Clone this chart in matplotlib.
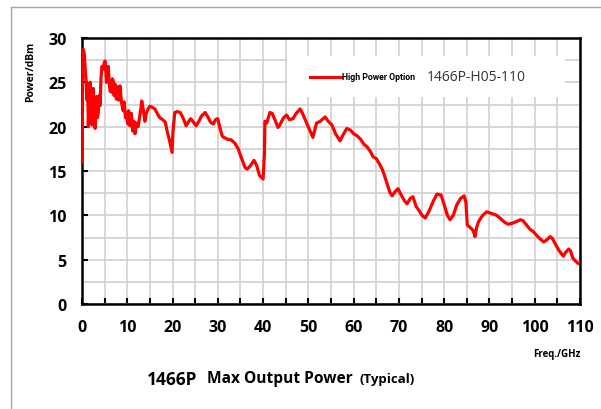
import matplotlib
matplotlib.use('Agg')
import matplotlib.pyplot as plt
from matplotlib.patches import Rectangle
from matplotlib.lines import Line2D

plt.rcParams['font.family'] = ['Open Sans', 'DejaVu Sans']

# frequency (GHz) / output power (dBm)
freq = [0, 0.15, 0.3, 0.5, 0.7, 0.9, 1.1, 1.25, 1.4, 1.6, 1.8, 2.0, 2.2, 2.35, 2.5, 2.7, 2.9,
        3.05, 3.2, 3.4, 3.6, 3.8, 4.0, 4.2, 4.4, 4.7, 4.9, 5.1, 5.3, 5.4, 5.6, 5.8, 6.0, 6.2,
        6.5, 6.7, 6.9, 7.1, 7.3, 7.6, 7.9, 8.1, 8.4, 8.7, 9.1, 9.3, 9.6, 9.8, 10.1, 10.3, 10.6,
        10.9, 11.2, 11.5, 11.7, 12.0, 12.4, 12.7, 13.0, 13.2, 13.5, 13.9, 14.2, 14.6, 15.0,
        15.5, 16.1, 16.6, 17.2, 17.8, 18.4, 18.8, 19.3, 19.6, 19.9, 20.1, 20.5, 21.0, 21.7,
        22.3, 23.0, 23.6, 24.0, 24.5, 25.2, 25.8, 26.4, 27.2, 27.8, 28.4, 29.0, 29.5, 30.0,
        30.5, 31.0, 32.0, 33.0, 33.8, 34.5, 35.2, 36.0, 36.5, 37.2, 38.0, 38.6, 39.2, 40.0,
        40.3, 40.4, 40.8, 41.5, 42.0, 42.6, 43.3, 43.8, 44.5, 45.2, 45.8, 46.6, 47.3, 48.2,
        48.8, 49.7, 50.4, 51.0, 51.8, 52.6, 53.7, 54.4, 55.2, 56.0, 57.0, 57.8, 58.5, 59.3,
        60.0, 60.7, 61.5, 62.3, 63.0, 63.7, 64.3, 65.0, 65.7, 66.3, 66.8, 67.3, 68.0, 68.5,
        69.2, 69.8, 70.6, 71.3, 71.8, 72.5, 73.1, 73.8, 74.5, 75.1, 75.8, 76.6, 77.5, 78.4,
        79.3, 80.0, 80.7, 81.3, 82.0, 82.8, 83.6, 84.4, 84.8, 85.1, 85.8, 86.4, 86.8, 87.2,
        87.6, 88.5, 89.4, 90.5, 91.6, 92.5, 93.4, 94.1, 95.0, 96.0, 96.8, 97.4, 98.2, 99.0,
        99.6, 100.5, 101.3, 102.0, 102.6, 103.4, 103.9, 104.6, 105.4, 106.0, 106.3, 106.8,
        107.5, 107.9, 108.4, 108.9, 109.5, 110.0]
power = [16.0, 27.5, 28.7, 28.2, 26.5, 25.2, 23.0, 24.8, 20.0, 24.0, 25.0, 21.5, 20.2, 24.2,
         24.3, 21.0, 19.8, 23.0, 23.4, 21.0, 21.6, 23.5, 22.4, 25.5, 26.8, 26.5, 27.2, 27.4,
         26.0, 25.0, 26.5, 26.8, 25.0, 24.0, 23.9, 25.4, 25.2, 23.5, 24.8, 23.1, 24.5, 23.0,
         24.6, 22.8, 21.8, 22.8, 21.0, 21.6, 20.3, 21.8, 20.1, 21.5, 19.5, 20.6, 19.2, 20.4,
         20.0, 21.0, 22.0, 22.9, 22.0, 20.6, 21.5, 22.0, 22.3, 22.2, 22.0, 21.5, 21.0, 20.8,
         20.5, 19.5, 18.5, 17.8, 17.1, 19.5, 21.6, 21.7, 21.6, 21.0, 20.1, 20.6, 20.9, 20.6,
         20.1, 20.6, 21.2, 21.6, 21.1, 20.5, 20.3, 20.8, 20.9, 19.8, 18.9, 18.6, 18.5, 18.1,
         17.5, 16.5, 15.4, 15.2, 15.6, 16.2, 15.6, 14.5, 14.1, 17.0, 20.6, 20.4, 21.6, 21.5,
         20.8, 19.9, 20.3, 21.0, 21.3, 20.8, 20.9, 21.5, 22.0, 21.4, 20.3, 19.5, 18.8, 20.4,
         20.6, 21.1, 20.6, 20.2, 19.2, 18.4, 19.2, 19.8, 19.6, 19.2, 19.0, 18.6, 18.0, 17.7,
         17.2, 16.6, 16.4, 15.8, 15.2, 14.5, 13.7, 12.6, 12.2, 12.7, 13.0, 12.2, 11.6, 11.3,
         11.9, 12.1, 11.0, 10.5, 10.0, 9.7, 10.4, 11.5, 12.4, 12.3, 11.2, 10.0, 9.5, 10.0,
         11.2, 11.9, 12.2, 11.5, 8.9, 8.6, 8.3, 7.6, 8.7, 9.3, 10.0, 10.4, 10.2, 10.0, 9.6,
         9.2, 9.0, 9.1, 9.3, 9.5, 9.4, 8.9, 8.4, 8.2, 7.7, 7.3, 7.0, 7.2, 7.6, 7.4, 6.7, 6.0,
         5.6, 5.4, 5.8, 6.2, 6.0, 5.2, 4.9, 4.6, 4.5]

x_ticks = [0, 10, 20, 30, 40, 50, 60, 70, 80, 90, 100, 110]
y_ticks = [0, 5, 10, 15, 20, 25, 30]

W, H = 601, 410
fig = plt.figure(figsize=(W / 100, H / 100), dpi=100)
ax = fig.add_axes([82 / W, 1 - 305 / H, (580 - 82) / W, (305 - 39) / H])

ax.plot(freq, power, color='#ff0000', linewidth=2.3, solid_joinstyle='round', zorder=3)

ax.set_xlim(0, 110)
ax.set_ylim(0, 30)
ax.set_xticks(x_ticks)
ax.set_xticks(range(5, 110, 10), minor=True)
ax.set_yticks(y_ticks)
ax.set_yticks([2.5 + 5 * i for i in range(6)], minor=True)

# light grid every 5 GHz and 2.5 dBm
ax.set_axisbelow(True)
ax.grid(True, which='both', color='#cfcfcf', linewidth=1.2)

ax.tick_params(axis='both', which='major', direction='in', length=4.5, width=1.5,
               labelsize=11.5, pad=11, colors='black')
ax.tick_params(axis='x', which='minor', direction='in', length=4.5, width=1.5)
ax.tick_params(axis='y', which='minor', length=0)
for lab in ax.get_xticklabels() + ax.get_yticklabels():
    lab.set_fontweight('bold')
for sp in ax.spines.values():
    sp.set_linewidth(1.8)
    sp.set_color('black')


def fx(px):
    return px / W


def fy(py):
    return 1 - py / H


# legend box
fig.patches.append(Rectangle((fx(287), fy(98)), (565 - 287) / W, (98 - 57) / H,
                             transform=fig.transFigure, facecolor='white', edgecolor='none',
                             zorder=5))
fig.lines.append(Line2D([fx(310), fx(341)], [fy(78), fy(78)], transform=fig.transFigure,
                        color='#ff0000', linewidth=2.2, zorder=6))
fig.text(fx(342), fy(78), 'High Power Option', fontsize=6.3, fontweight='bold',
         family=['Roboto', 'DejaVu Sans'], ha='left', va='center', zorder=6)
fig.text(fx(427), fy(78), '1466P-H05-110', fontsize=10, color='#333333',
         ha='left', va='center', zorder=6)

# outer frame
fig.patches.append(Rectangle((fx(11), fy(412)), (W + 5 - 11) / W, (412 - 8) / H,
                             transform=fig.transFigure, facecolor='none',
                             edgecolor='#a6a6a6', linewidth=1.0))

fig.text(fx(31), fy(72), 'Power/dBm', rotation=90, fontsize=7.5, fontweight='bold',
         ha='center', va='center')
fig.text(fx(557), fy(355), 'Freq./GHz', fontsize=7, fontweight='bold',
         ha='center', va='center')

fig.text(fx(147), fy(380), '1466P', fontsize=12.5, fontweight='bold', ha='left', va='center')
fig.text(fx(207), fy(379), 'Max Output Power', fontsize=11.2, fontweight='bold',
         ha='left', va='center')
fig.text(fx(360), fy(380), '(Typical)', fontsize=9.5, fontweight='bold', ha='left', va='center')

fig.savefig('out.png', dpi=100)
